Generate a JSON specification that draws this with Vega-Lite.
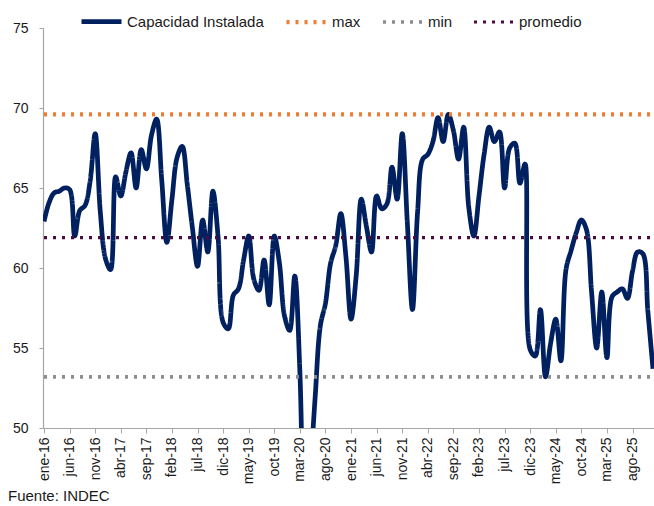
{
  "$schema": "https://vega.github.io/schema/vega-lite/v6.json",
  "width": 611,
  "height": 400,
  "autosize": {"type": "none"},
  "padding": {"left": 43, "top": 28, "right": 0, "bottom": 78},
  "background": "white",
  "config": {"view": {"stroke": null}, "font": "Liberation Sans"},
  "title": {"text": "Fuente: INDEC", "orient": "bottom", "anchor": "start", "frame": "group", "fontSize": 15, "fontWeight": "normal", "color": "#1a1a1a", "dx": -35, "offset": 5},
  "data": {"values": [
    {"mes":"ene-16","serie":"Capacidad Instalada","valor":62.9},
    {"mes":"feb-16","serie":"Capacidad Instalada","valor":64.1},
    {"mes":"mar-16","serie":"Capacidad Instalada","valor":64.7},
    {"mes":"abr-16","serie":"Capacidad Instalada","valor":64.8},
    {"mes":"may-16","serie":"Capacidad Instalada","valor":65.0},
    {"mes":"jun-16","serie":"Capacidad Instalada","valor":64.9},
    {"mes":"jul-16","serie":"Capacidad Instalada","valor":62.0},
    {"mes":"ago-16","serie":"Capacidad Instalada","valor":63.6},
    {"mes":"sep-16","serie":"Capacidad Instalada","valor":63.9},
    {"mes":"oct-16","serie":"Capacidad Instalada","valor":65.4},
    {"mes":"nov-16","serie":"Capacidad Instalada","valor":68.4},
    {"mes":"dic-16","serie":"Capacidad Instalada","valor":63.5},
    {"mes":"ene-17","serie":"Capacidad Instalada","valor":60.6},
    {"mes":"feb-17","serie":"Capacidad Instalada","valor":59.9},
    {"mes":"mar-17","serie":"Capacidad Instalada","valor":65.7},
    {"mes":"abr-17","serie":"Capacidad Instalada","valor":64.5},
    {"mes":"may-17","serie":"Capacidad Instalada","valor":66.0},
    {"mes":"jun-17","serie":"Capacidad Instalada","valor":67.2},
    {"mes":"jul-17","serie":"Capacidad Instalada","valor":65.0},
    {"mes":"ago-17","serie":"Capacidad Instalada","valor":67.4},
    {"mes":"sep-17","serie":"Capacidad Instalada","valor":66.2},
    {"mes":"oct-17","serie":"Capacidad Instalada","valor":68.3},
    {"mes":"nov-17","serie":"Capacidad Instalada","valor":69.3},
    {"mes":"dic-17","serie":"Capacidad Instalada","valor":65.5},
    {"mes":"ene-18","serie":"Capacidad Instalada","valor":61.6},
    {"mes":"feb-18","serie":"Capacidad Instalada","valor":64.3},
    {"mes":"mar-18","serie":"Capacidad Instalada","valor":66.9},
    {"mes":"abr-18","serie":"Capacidad Instalada","valor":67.6},
    {"mes":"may-18","serie":"Capacidad Instalada","valor":65.2},
    {"mes":"jun-18","serie":"Capacidad Instalada","valor":62.5},
    {"mes":"jul-18","serie":"Capacidad Instalada","valor":60.1},
    {"mes":"ago-18","serie":"Capacidad Instalada","valor":63.0},
    {"mes":"sep-18","serie":"Capacidad Instalada","valor":61.0},
    {"mes":"oct-18","serie":"Capacidad Instalada","valor":64.8},
    {"mes":"nov-18","serie":"Capacidad Instalada","valor":62.0},
    {"mes":"dic-18","serie":"Capacidad Instalada","valor":56.6},
    {"mes":"ene-19","serie":"Capacidad Instalada","valor":56.2},
    {"mes":"feb-19","serie":"Capacidad Instalada","valor":58.3},
    {"mes":"mar-19","serie":"Capacidad Instalada","valor":58.7},
    {"mes":"abr-19","serie":"Capacidad Instalada","valor":60.5},
    {"mes":"may-19","serie":"Capacidad Instalada","valor":62.0},
    {"mes":"jun-19","serie":"Capacidad Instalada","valor":59.3},
    {"mes":"jul-19","serie":"Capacidad Instalada","valor":58.6},
    {"mes":"ago-19","serie":"Capacidad Instalada","valor":60.5},
    {"mes":"sep-19","serie":"Capacidad Instalada","valor":57.7},
    {"mes":"oct-19","serie":"Capacidad Instalada","valor":62.0},
    {"mes":"nov-19","serie":"Capacidad Instalada","valor":60.3},
    {"mes":"dic-19","serie":"Capacidad Instalada","valor":57.0},
    {"mes":"ene-20","serie":"Capacidad Instalada","valor":56.1},
    {"mes":"feb-20","serie":"Capacidad Instalada","valor":59.5},
    {"mes":"mar-20","serie":"Capacidad Instalada","valor":53.5},
    {"mes":"abr-20","serie":"Capacidad Instalada","valor":42.0},
    {"mes":"may-20","serie":"Capacidad Instalada","valor":47.0},
    {"mes":"jun-20","serie":"Capacidad Instalada","valor":52.0},
    {"mes":"jul-20","serie":"Capacidad Instalada","valor":56.4},
    {"mes":"ago-20","serie":"Capacidad Instalada","valor":57.8},
    {"mes":"sep-20","serie":"Capacidad Instalada","valor":60.3},
    {"mes":"oct-20","serie":"Capacidad Instalada","valor":61.4},
    {"mes":"nov-20","serie":"Capacidad Instalada","valor":63.4},
    {"mes":"dic-20","serie":"Capacidad Instalada","valor":60.7},
    {"mes":"ene-21","serie":"Capacidad Instalada","valor":56.8},
    {"mes":"feb-21","serie":"Capacidad Instalada","valor":59.5},
    {"mes":"mar-21","serie":"Capacidad Instalada","valor":64.3},
    {"mes":"abr-21","serie":"Capacidad Instalada","valor":62.6},
    {"mes":"may-21","serie":"Capacidad Instalada","valor":61.0},
    {"mes":"jun-21","serie":"Capacidad Instalada","valor":64.5},
    {"mes":"jul-21","serie":"Capacidad Instalada","valor":63.7},
    {"mes":"ago-21","serie":"Capacidad Instalada","valor":64.0},
    {"mes":"sep-21","serie":"Capacidad Instalada","valor":66.3},
    {"mes":"oct-21","serie":"Capacidad Instalada","valor":64.3},
    {"mes":"nov-21","serie":"Capacidad Instalada","valor":68.4},
    {"mes":"dic-21","serie":"Capacidad Instalada","valor":62.8},
    {"mes":"ene-22","serie":"Capacidad Instalada","valor":57.4},
    {"mes":"feb-22","serie":"Capacidad Instalada","valor":63.5},
    {"mes":"mar-22","serie":"Capacidad Instalada","valor":66.8},
    {"mes":"abr-22","serie":"Capacidad Instalada","valor":67.1},
    {"mes":"may-22","serie":"Capacidad Instalada","valor":67.9},
    {"mes":"jun-22","serie":"Capacidad Instalada","valor":69.4},
    {"mes":"jul-22","serie":"Capacidad Instalada","valor":67.9},
    {"mes":"ago-22","serie":"Capacidad Instalada","valor":69.6},
    {"mes":"sep-22","serie":"Capacidad Instalada","valor":68.6},
    {"mes":"oct-22","serie":"Capacidad Instalada","valor":66.8},
    {"mes":"nov-22","serie":"Capacidad Instalada","valor":68.8},
    {"mes":"dic-22","serie":"Capacidad Instalada","valor":63.8},
    {"mes":"ene-23","serie":"Capacidad Instalada","valor":62.0},
    {"mes":"feb-23","serie":"Capacidad Instalada","valor":64.5},
    {"mes":"mar-23","serie":"Capacidad Instalada","valor":67.1},
    {"mes":"abr-23","serie":"Capacidad Instalada","valor":68.8},
    {"mes":"may-23","serie":"Capacidad Instalada","valor":67.9},
    {"mes":"jun-23","serie":"Capacidad Instalada","valor":68.5},
    {"mes":"jul-23","serie":"Capacidad Instalada","valor":65.0},
    {"mes":"ago-23","serie":"Capacidad Instalada","valor":67.5},
    {"mes":"sep-23","serie":"Capacidad Instalada","valor":67.8},
    {"mes":"oct-23","serie":"Capacidad Instalada","valor":65.3},
    {"mes":"nov-23","serie":"Capacidad Instalada","valor":66.5},
    {"mes":"dic-23","serie":"Capacidad Instalada","valor":54.9},
    {"mes":"ene-24","serie":"Capacidad Instalada","valor":54.5},
    {"mes":"feb-24","serie":"Capacidad Instalada","valor":57.4},
    {"mes":"mar-24","serie":"Capacidad Instalada","valor":53.2},
    {"mes":"abr-24","serie":"Capacidad Instalada","valor":55.3},
    {"mes":"may-24","serie":"Capacidad Instalada","valor":56.8},
    {"mes":"jun-24","serie":"Capacidad Instalada","valor":54.2},
    {"mes":"jul-24","serie":"Capacidad Instalada","valor":59.9},
    {"mes":"ago-24","serie":"Capacidad Instalada","valor":61.1},
    {"mes":"sep-24","serie":"Capacidad Instalada","valor":62.2},
    {"mes":"oct-24","serie":"Capacidad Instalada","valor":63.0},
    {"mes":"nov-24","serie":"Capacidad Instalada","valor":62.4},
    {"mes":"dic-24","serie":"Capacidad Instalada","valor":58.5},
    {"mes":"ene-25","serie":"Capacidad Instalada","valor":55.0},
    {"mes":"feb-25","serie":"Capacidad Instalada","valor":58.5},
    {"mes":"mar-25","serie":"Capacidad Instalada","valor":54.4},
    {"mes":"abr-25","serie":"Capacidad Instalada","valor":58.2},
    {"mes":"may-25","serie":"Capacidad Instalada","valor":58.5},
    {"mes":"jun-25","serie":"Capacidad Instalada","valor":58.7},
    {"mes":"jul-25","serie":"Capacidad Instalada","valor":58.1},
    {"mes":"ago-25","serie":"Capacidad Instalada","valor":59.8},
    {"mes":"sep-25","serie":"Capacidad Instalada","valor":61.0},
    {"mes":"oct-25","serie":"Capacidad Instalada","valor":60.9},
    {"mes":"nov-25","serie":"Capacidad Instalada","valor":57.3},
    {"mes":"dic-25","serie":"Capacidad Instalada","valor":53.7},
    {"mes":"ene-16","serie":"max","valor":69.6},
    {"mes":"dic-25","serie":"max","valor":69.6},
    {"mes":"ene-16","serie":"min","valor":53.2},
    {"mes":"dic-25","serie":"min","valor":53.2},
    {"mes":"ene-16","serie":"promedio","valor":61.9},
    {"mes":"dic-25","serie":"promedio","valor":61.9}
  ]},
  "mark": {"type": "line", "clip": true, "interpolate": "catmull-rom", "strokeCap": "butt", "strokeJoin": "round"},
  "encoding": {
    "x": {
      "field": "mes", "type": "ordinal", "sort": null,
      "scale": {"type": "point", "padding": 0.2},
      "axis": {
        "title": null, "grid": false,
        "values": ["ene-16","jun-16","nov-16","abr-17","sep-17","feb-18","jul-18","dic-18","may-19","oct-19","mar-20","ago-20","ene-21","jun-21","nov-21","abr-22","sep-22","feb-23","jul-23","dic-23","may-24","oct-24","mar-25","ago-25"],
        "labelAngle": -90, "labelFontSize": 14, "labelColor": "#1a1a1a", "labelPadding": 4,
        "tickSize": 5, "tickColor": "#A6A6A6", "domainColor": "#A6A6A6", "domainWidth": 1.2
      }
    },
    "y": {
      "field": "valor", "type": "quantitative",
      "scale": {"domain": [50, 75], "nice": false, "zero": false},
      "axis": {
        "title": null, "grid": false, "values": [50, 55, 60, 65, 70, 75],
        "labelFontSize": 14, "labelColor": "#1a1a1a", "labelPadding": 11,
        "tickSize": 4, "tickColor": "#A6A6A6", "domainColor": "#A6A6A6", "domainWidth": 1.2
      }
    },
    "color": {
      "field": "serie", "type": "nominal",
      "scale": {"domain": ["Capacidad Instalada", "max", "min", "promedio"], "range": ["#002060", "#ED7D31", "#8C8C8C", "#4B0B3F"]},
      "legend": {"orient": "none", "legendX": 36, "legendY": -29, "direction": "horizontal", "title": null, "labelFontSize": 15, "labelColor": "#1a1a1a", "symbolSize": 1600, "labelOffset": 3, "columnPadding": 14, "padding": 0, "symbolType": "stroke"}
    },
    "strokeDash": {
      "field": "serie", "type": "nominal",
      "scale": {"domain": ["Capacidad Instalada", "max", "min", "promedio"], "range": [[1, 0], [3, 6], [3, 6], [3, 6]]},
      "legend": {"orient": "none", "legendX": 36, "legendY": -29, "direction": "horizontal", "title": null, "labelFontSize": 15, "labelColor": "#1a1a1a", "symbolSize": 1600, "labelOffset": 3, "columnPadding": 14, "padding": 0, "symbolType": "stroke"}
    },
    "strokeWidth": {
      "field": "serie", "type": "nominal",
      "scale": {"domain": ["Capacidad Instalada", "max", "min", "promedio"], "range": [4.75, 3.2, 3.2, 3.2]},
      "legend": {"orient": "none", "legendX": 36, "legendY": -29, "direction": "horizontal", "title": null, "labelFontSize": 15, "labelColor": "#1a1a1a", "symbolSize": 1600, "labelOffset": 3, "columnPadding": 14, "padding": 0, "symbolType": "stroke"}
    }
  }
}
